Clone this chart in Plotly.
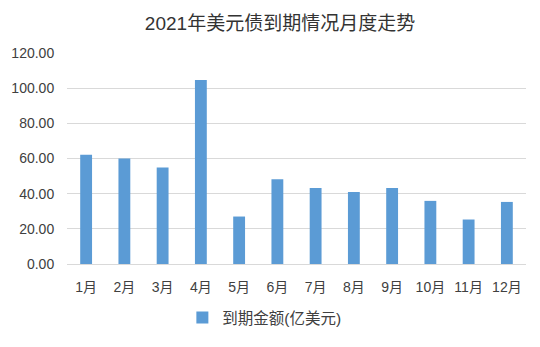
import plotly.graph_objects as go

# Monthly maturities of USD bonds in 2021 (100 million USD)
months = ["1月", "2月", "3月", "4月", "5月", "6月", "7月", "8月", "9月", "10月", "11月", "12月"]
amounts = [62.2, 60.0, 54.9, 104.6, 27.0, 48.2, 43.2, 40.9, 43.2, 35.9, 25.3, 35.3]
series_name = "到期金额(亿美元)"
title_text = "2021年美元债到期情况月度走势"
y_ticks = [0, 20, 40, 60, 80, 100, 120]

FONT = "Liberation Sans, Noto Sans CJK SC, sans-serif"
TEXT = "#404040"

fig = go.Figure()
fig.add_trace(go.Bar(
    x=months,
    y=amounts,
    name=series_name,
    marker=dict(color="#5b9bd5", line=dict(width=0)),
    showlegend=True,
))

fig.update_layout(
    width=540,
    height=347,
    margin=dict(l=67, r=14, t=53, b=79),
    paper_bgcolor="white",
    plot_bgcolor="white",
    bargap=0.69,
    font=dict(family=FONT, color=TEXT, size=14),
    title=dict(
        text=title_text,
        x=280 / 540,
        xanchor="center",
        y=1 - 23 / 347,
        yanchor="middle",
        font=dict(family=FONT, size=19, color="#333333"),
    ),
    xaxis=dict(
        showgrid=False,
        showline=True,
        linecolor="#d9d9d9",
        linewidth=1,
        ticks="outside",
        ticklen=10,
        tickcolor="rgba(0,0,0,0)",
        tickfont=dict(size=14, color=TEXT),
    ),
    yaxis=dict(
        range=[0, 120],
        tickvals=y_ticks,
        tickformat=".2f",
        showgrid=True,
        gridcolor="#d9d9d9",
        gridwidth=1,
        zeroline=False,
        ticks="outside",
        ticklen=9,
        tickcolor="rgba(0,0,0,0)",
        tickfont=dict(size=14, color=TEXT),
    ),
    legend=dict(
        orientation="h",
        x=0.43,
        xanchor="center",
        y=-55 / 215,
        yanchor="middle",
        font=dict(size=15.5, color=TEXT),
    ),
)

fig.write_html("out.html")
